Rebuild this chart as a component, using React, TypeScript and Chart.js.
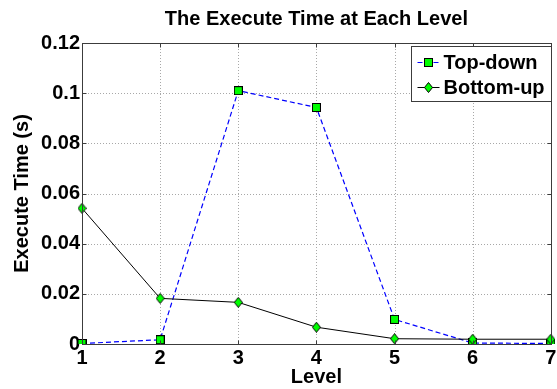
import React, { useEffect, useRef } from "react";
import { Chart, registerables } from "chart.js";
Chart.register(...registerables);

const levels = ["1", "2", "3", "4", "5", "6", "7"];
const topDown = [0.0002, 0.0017, 0.101, 0.0943, 0.0098, 0.0004, 0.0002];
const bottomUp = [0.0541, 0.0182, 0.0166, 0.0067, 0.0021, 0.0019, 0.0019];
const yMin = 0;
const yMax = 0.12;
const yStep = 0.02;
const chartTitle = "The Execute Time at Each Level";
const xTitle = "Level";
const yTitle = "Execute Time (s)";
const seriesNames = ["Top-down", "Bottom-up"];

const FONT = '"Liberation Sans", Arial, Helvetica, sans-serif';

function makeSquare(): HTMLCanvasElement {
  const c = document.createElement("canvas");
  c.width = 9;
  c.height = 9;
  const ctx = c.getContext("2d")!;
  ctx.fillStyle = "#00ff00";
  ctx.fillRect(1, 1, 7, 7);
  ctx.strokeStyle = "#000000";
  ctx.lineWidth = 1;
  ctx.strokeRect(0.5, 0.5, 8, 8);
  return c;
}

function makeDiamond(): HTMLCanvasElement {
  const c = document.createElement("canvas");
  c.width = 9;
  c.height = 11;
  const ctx = c.getContext("2d")!;
  ctx.beginPath();
  ctx.moveTo(4.5, 0.5);
  ctx.lineTo(8.5, 5.5);
  ctx.lineTo(4.5, 10.5);
  ctx.lineTo(0.5, 5.5);
  ctx.closePath();
  ctx.fillStyle = "#00ff00";
  ctx.fill();
  ctx.strokeStyle = "#000000";
  ctx.lineWidth = 1;
  ctx.stroke();
  return c;
}

export default function App() {
  const ref = useRef<HTMLCanvasElement | null>(null);

  useEffect(() => {
    const canvas = ref.current;
    if (!canvas) return;
    const square = makeSquare();
    const diamond = makeDiamond();

    const framePlugin = {
      id: "matlabFrame",
      beforeDatasetsDraw(chart: any) {
        const { ctx, chartArea: a, scales } = chart;
        const xs = scales.x;
        const ys = scales.y;
        ctx.save();
        ctx.strokeStyle = "#a8a8a8";
        ctx.lineWidth = 1;
        ctx.setLineDash([1, 2]);
        for (let i = 1; i < levels.length - 1; i++) {
          const px = Math.round(xs.getPixelForValue(i)) + 0.5;
          ctx.beginPath();
          ctx.moveTo(px, a.top);
          ctx.lineTo(px, a.bottom);
          ctx.stroke();
        }
        for (let v = yMin + yStep; v < yMax - 1e-9; v += yStep) {
          const py = Math.round(ys.getPixelForValue(v)) + 0.5;
          ctx.beginPath();
          ctx.moveTo(a.left, py);
          ctx.lineTo(a.right, py);
          ctx.stroke();
        }
        ctx.restore();
      },
      afterDatasetsDraw(chart: any) {
        const { ctx, chartArea: a, scales } = chart;
        const xs = scales.x;
        const ys = scales.y;
        ctx.save();
        ctx.strokeStyle = "#3c3c3c";
        ctx.lineWidth = 1;
        ctx.setLineDash([]);
        const L = Math.round(a.left) + 0.5;
        const R = Math.round(a.right) + 0.5;
        const T = Math.round(a.top) + 0.5;
        const B = Math.round(a.bottom) + 0.5;
        ctx.strokeRect(L, T, R - L, B - T);
        const tl = 4;
        for (let i = 0; i < levels.length; i++) {
          const px = Math.round(xs.getPixelForValue(i)) + 0.5;
          ctx.beginPath();
          ctx.moveTo(px, B);
          ctx.lineTo(px, B - tl);
          ctx.moveTo(px, T);
          ctx.lineTo(px, T + tl);
          ctx.stroke();
        }
        for (let v = yMin; v <= yMax + 1e-9; v += yStep) {
          const py = Math.round(ys.getPixelForValue(v)) + 0.5;
          ctx.beginPath();
          ctx.moveTo(L, py);
          ctx.lineTo(L + tl, py);
          ctx.moveTo(R, py);
          ctx.lineTo(R - tl, py);
          ctx.stroke();
        }
        ctx.restore();
      },
      afterDraw(chart: any) {
        const { ctx, chartArea: a } = chart;
        ctx.save();
        ctx.fillStyle = "#000000";
        // title
        ctx.font = `bold 20px ${FONT}`;
        ctx.textAlign = "center";
        ctx.textBaseline = "middle";
        ctx.fillText(chartTitle, (a.left + a.right) / 2, 19);
        // x title
        ctx.fillText(xTitle, (a.left + a.right) / 2, 377);
        // y title
        ctx.save();
        ctx.translate(22, (a.top + a.bottom) / 2);
        ctx.rotate(-Math.PI / 2);
        ctx.fillText(yTitle, 0, 0);
        ctx.restore();

        // legend
        const boxR = Math.round(a.right) + 0.5;
        const boxL = boxR - 140;
        const boxT = Math.round(a.top) + 3.5;
        const boxB = boxT + 55;
        ctx.fillStyle = "#ffffff";
        ctx.fillRect(boxL, boxT, boxR - boxL, boxB - boxT);
        ctx.strokeStyle = "#3c3c3c";
        ctx.lineWidth = 1;
        ctx.strokeRect(boxL, boxT, boxR - boxL, boxB - boxT);
        const rows = [boxT + 16, boxT + 41];
        const lx0 = boxL + 6;
        const lx1 = boxL + 28;
        const mx = boxL + 17;
        // Top-down
        ctx.strokeStyle = "#0000ff";
        ctx.lineWidth = 1.2;
        ctx.setLineDash([5, 3]);
        ctx.beginPath();
        ctx.moveTo(lx0, rows[0]);
        ctx.lineTo(lx1, rows[0]);
        ctx.stroke();
        ctx.setLineDash([]);
        ctx.drawImage(square, Math.round(mx - 4.5), Math.round(rows[0] - 4.5));
        // Bottom-up
        ctx.strokeStyle = "#000000";
        ctx.lineWidth = 1;
        ctx.beginPath();
        ctx.moveTo(lx0, rows[1]);
        ctx.lineTo(lx1, rows[1]);
        ctx.stroke();
        ctx.drawImage(diamond, Math.round(mx - 4.5), Math.round(rows[1] - 5.5));
        ctx.fillStyle = "#000000";
        ctx.font = `bold 20px ${FONT}`;
        ctx.textAlign = "left";
        ctx.textBaseline = "middle";
        ctx.fillText(seriesNames[0], boxL + 32, rows[0] + 1);
        ctx.fillText(seriesNames[1], boxL + 32, rows[1] + 1);
        ctx.restore();
      },
    };

    const chart = new Chart(canvas, {
      type: "line",
      data: {
        labels: levels,
        datasets: [
          {
            label: seriesNames[0],
            data: topDown,
            borderColor: "#0000ff",
            borderWidth: 1.2,
            borderDash: [5, 3],
            pointStyle: square as any,
            pointRadius: 5,
            pointHoverRadius: 5,
            fill: false,
            tension: 0,
            order: 1,
          },
          {
            label: seriesNames[1],
            data: bottomUp,
            borderColor: "#000000",
            borderWidth: 1,
            pointStyle: diamond as any,
            pointRadius: 5,
            pointHoverRadius: 5,
            fill: false,
            tension: 0,
            order: 0,
          },
        ],
      },
      options: {
        responsive: false,
        animation: false,
        events: [],
        layout: { padding: { top: 43, right: 5, left: 0, bottom: 0 } },
        plugins: {
          legend: { display: false },
          title: { display: false },
          tooltip: { enabled: false },
        },
        scales: {
          x: {
            type: "category",
            offset: false,
            grid: { display: false, drawTicks: false, tickLength: 0 },
            border: { display: false },
            ticks: {
              color: "#000000",
              font: { family: FONT, size: 20, weight: "bold" },
              padding: 2,
              maxRotation: 0,
              autoSkip: false,
            },
            afterFit: (s: any) => {
              s.height = 45;
              s.paddingLeft = 0;
              s.paddingRight = 0;
            },
          },
          y: {
            type: "linear",
            min: yMin,
            max: yMax,
            grid: { display: false, drawTicks: false, tickLength: 0 },
            border: { display: false },
            ticks: {
              stepSize: yStep,
              color: "#000000",
              font: { family: FONT, size: 20, weight: "bold" },
              padding: 2,
              callback: (v: any) => String(Number(Number(v).toFixed(2))),
            },
            afterFit: (s: any) => {
              s.width = 82;
              s.paddingTop = 0;
              s.paddingBottom = 0;
            },
          },
        },
      },
      plugins: [framePlugin],
    });

    return () => {
      chart.destroy();
    };
  }, []);

  return (
    <div style={{ position: "absolute", left: 0, top: 0, width: 557, height: 389, background: "#ffffff" }}>
      <canvas ref={ref} width={557} height={389} style={{ width: 557, height: 389, display: "block" }} />
    </div>
  );
}
